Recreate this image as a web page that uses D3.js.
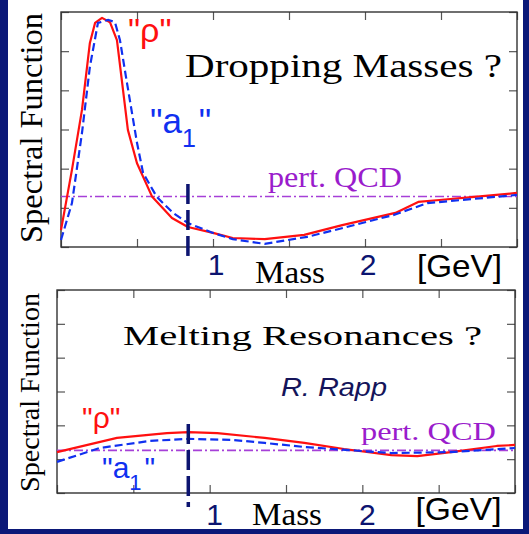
<!DOCTYPE html>
<html>
<head>
<meta charset="utf-8">
<script src="https://cdn.jsdelivr.net/npm/d3@7/dist/d3.min.js"></script>
<style>
  html, body { margin: 0; padding: 0; background: #0b1878; }
  svg { display: block; }
</style>
</head>
<body>
<svg id="chart" width="529" height="534"></svg>
<script>
// ---- data: mass [GeV] and spectral function (arbitrary units, 0..6) ----
// Dropping masses scenario
const dropMass  = [0, 0.072, 0.138, 0.19, 0.224, 0.27, 0.322, 0.368, 0.44, 0.50, 0.60, 0.73, 0.835, 1.0, 1.13, 1.34, 1.60, 1.85, 2.20, 2.35, 2.49, 2.72, 3.0];
const dropRho   = [0.43, 1.97, 3.50, 5.21, 5.72, 5.85, 5.74, 5.28, 2.99, 2.14, 1.28, 0.74, 0.51, 0.36, 0.23, 0.20, 0.31, 0.56, 0.87, 1.15, 1.20, 1.28, 1.38];
const dropMassA1 = [0, 0.072, 0.138, 0.19, 0.243, 0.31, 0.355, 0.388, 0.434, 0.50, 0.54, 0.63, 0.737, 0.835, 1.0, 1.13, 1.34, 1.62, 1.86, 2.19, 2.41, 3.0];
const dropA1    = [0.18, 1.12, 2.91, 4.60, 5.72, 5.80, 5.74, 5.28, 4.19, 2.66, 1.89, 1.28, 0.87, 0.61, 0.36, 0.20, 0.08, 0.26, 0.49, 0.82, 1.12, 1.33];
const dropQCD   = 1.29;

// Melting resonances scenario
const meltMass  = [0, 0.393, 0.72, 0.86, 1.05, 1.36, 1.62, 1.88, 2.19, 2.36, 2.58, 2.88, 3.0];
const meltRho   = [1.21, 1.63, 1.77, 1.80, 1.77, 1.63, 1.48, 1.30, 1.12, 1.09, 1.21, 1.39, 1.42];
const meltMassA1 = [0, 0.28, 0.61, 0.86, 1.15, 1.36, 1.62, 2.19, 2.58, 3.0];
const meltA1    = [0.92, 1.33, 1.54, 1.60, 1.57, 1.48, 1.36, 1.18, 1.21, 1.33];
const meltQCD   = 1.26;

// vacuum rho mass marker: [mass, upper end of the marker]
const rhoMarkMass = [0.835, 0.86];
const rhoMarkTop  = [1.61, 2.04];

// axis ticks and labels
const xTicks = [0, 0.5, 1, 1.5, 2, 2.5, 3];
const yTicks = [0, 1, 2, 3, 4, 5, 6];
const xTickLabels = [1, 2];
const titles = ["Dropping Masses ?", "Melting Resonances ?"];
const yTitle = "Spectral Function";
const xTitle = "Mass";
const xUnit = "[GeV]";
const qcdLabel = "pert. QCD";
const credit = "R. Rapp";

// ---- layout ----
const SERIF = "'Liberation Serif', 'Times New Roman', serif";
const SANS = "'Liberation Sans', Arial, sans-serif";
const RED = "#ff1010", BLUE = "#1030f0", PURPLE = "#9a1ccc", NAVY = "#0c1470";

const panels = [
  {
    box: {x0: 61, x1: 517, y0: 12, y1: 247},
    mass: dropMass, rho: dropRho, massA1: dropMassA1, a1: dropA1, qcd: dropQCD,
    mark: {m: rhoMarkMass[0], top: rhoMarkTop[0], below: 11},
    title: {text: titles[0], x: 185, y: 77, size: 33, len: 317},
    yTitle: {x: 42, y: 128, size: 32, len: 230},
    qcd: dropQCD,
    qcdText: {x: 268, y: 187, size: 30, len: 134},
    rhoText: {x: 128, y: 42, size: 34},
    a1Text: {x: 150, y: 133, size: 35, sub: 25, subDy: 14},
    tickLab: {y: 275, size: 30, dx: 3},
    massLab: {y: 283, size: 32, len: 70, cx: 290},
    unitLab: {y: 277, size: 32, len: 85, cx: 459.5}
  },
  {
    box: {x0: 57, x1: 515, y0: 290, y1: 493},
    mass: meltMass, rho: meltRho, massA1: meltMassA1, a1: meltA1, qcd: meltQCD,
    mark: {m: rhoMarkMass[1], top: rhoMarkTop[1], below: 14},
    title: {text: titles[1], x: 123, y: 345, size: 28, len: 359},
    yTitle: {x: 39, y: 392.5, size: 28, len: 199},
    qcdText: {x: 361, y: 440, size: 26, len: 135},
    rhoText: {x: 82, y: 428, size: 30},
    a1Text: {x: 102, y: 478, size: 30, sub: 22, subDy: 12},
    credit: {x: 281, y: 396, size: 25, len: 106},
    tickLab: {y: 525, size: 30, dx: 5},
    massLab: {y: 525, size: 32, len: 70, cx: 287},
    unitLab: {y: 520, size: 32, len: 86, cx: 458.5}
  }
];

const svg = d3.select("#chart");

// white slide area
svg.append("rect").attr("x", 8).attr("y", 0).attr("width", 515).attr("height", 529).attr("fill", "#ffffff");

panels.forEach(p => {
  const b = p.box;
  const x = d3.scaleLinear().domain([0, 3]).range([b.x0, b.x1]);
  const y = d3.scaleLinear().domain([0, 6]).range([b.y1, b.y0]);
  const g = svg.append("g");

  // inward ticks on all four sides
  const tickStyle = sel => {
    sel.select(".domain").remove();
    sel.selectAll(".tick line").attr("stroke", "#555").attr("stroke-width", 1.2);
    sel.selectAll(".tick text").remove();
  };
  g.append("g").attr("transform", `translate(0,${b.y1})`)
    .call(d3.axisBottom(x).tickValues(xTicks).tickSize(-8)).call(tickStyle);
  g.append("g").attr("transform", `translate(0,${b.y0})`)
    .call(d3.axisTop(x).tickValues(xTicks).tickSize(-8)).call(tickStyle);
  g.append("g").attr("transform", `translate(${b.x0},0)`)
    .call(d3.axisLeft(y).tickValues(yTicks).tickSize(-8)).call(tickStyle);
  g.append("g").attr("transform", `translate(${b.x1},0)`)
    .call(d3.axisRight(y).tickValues(yTicks).tickSize(-8)).call(tickStyle);

  // frame
  g.append("rect").attr("x", b.x0).attr("y", b.y0)
    .attr("width", b.x1 - b.x0).attr("height", b.y1 - b.y0)
    .attr("fill", "none").attr("stroke", "#333").attr("stroke-width", 1.4);

  // perturbative QCD continuum
  g.append("line").attr("x1", x(0)).attr("x2", x(3))
    .attr("y1", y(p.qcd)).attr("y2", y(p.qcd))
    .attr("stroke", "#a640d8").attr("stroke-width", 1.6)
    .attr("stroke-dasharray", "9,3,2,3");

  const line = d3.line().x(d => x(d[0])).y(d => y(d[1])).curve(d3.curveLinear);

  // rho (solid red) and a1 (dashed blue)
  g.append("path").datum(d3.zip(p.mass, p.rho)).attr("d", line)
    .attr("fill", "none").attr("stroke", RED).attr("stroke-width", 2.2)
    .attr("stroke-linejoin", "round");
  g.append("path").datum(d3.zip(p.massA1, p.a1)).attr("d", line)
    .attr("fill", "none").attr("stroke", BLUE).attr("stroke-width", 2.2)
    .attr("stroke-dasharray", "8,4");

  // vacuum rho mass marker
  g.append("line").attr("x1", x(p.mark.m)).attr("x2", x(p.mark.m))
    .attr("y1", y(p.mark.top)).attr("y2", b.y1 + p.mark.below)
    .attr("stroke", NAVY).attr("stroke-width", 3.5)
    .attr("stroke-dasharray", "20,6");

  // titles and labels
  g.append("text").attr("x", p.title.x).attr("y", p.title.y)
    .attr("font-family", SERIF).attr("font-size", p.title.size)
    .attr("textLength", p.title.len).attr("lengthAdjust", "spacingAndGlyphs")
    .attr("fill", "#000").text(p.title.text);

  g.append("text")
    .attr("transform", `translate(${p.yTitle.x},${p.yTitle.y}) rotate(-90)`)
    .attr("text-anchor", "middle")
    .attr("font-family", SERIF).attr("font-size", p.yTitle.size)
    .attr("textLength", p.yTitle.len).attr("lengthAdjust", "spacingAndGlyphs")
    .attr("fill", "#000").text(yTitle);

  g.append("text").attr("x", p.qcdText.x).attr("y", p.qcdText.y)
    .attr("font-family", SERIF).attr("font-size", p.qcdText.size)
    .attr("textLength", p.qcdText.len).attr("lengthAdjust", "spacingAndGlyphs")
    .attr("fill", PURPLE).text(qcdLabel);

  g.append("text").attr("x", p.rhoText.x).attr("y", p.rhoText.y)
    .attr("font-family", SANS).attr("font-size", p.rhoText.size)
    .attr("fill", RED).text("\"\u03C1\"");

  const a1 = g.append("text").attr("x", p.a1Text.x).attr("y", p.a1Text.y)
    .attr("font-family", SANS).attr("font-size", p.a1Text.size).attr("fill", BLUE);
  a1.append("tspan").text("\"a");
  a1.append("tspan").attr("font-size", p.a1Text.sub).attr("dy", p.a1Text.subDy).text("1");
  a1.append("tspan").attr("dy", -p.a1Text.subDy).attr("dx", 3).text("\"");

  if (p.credit) {
    g.append("text").attr("x", p.credit.x).attr("y", p.credit.y)
      .attr("font-family", SANS).attr("font-style", "italic")
      .attr("font-size", p.credit.size)
      .attr("textLength", p.credit.len).attr("lengthAdjust", "spacingAndGlyphs")
      .attr("fill", "#14145a").text(credit);
  }

  // mass axis labels below the frame
  g.selectAll(null).data(xTickLabels).join("text")
    .attr("x", d => x(d) + p.tickLab.dx).attr("y", p.tickLab.y)
    .attr("text-anchor", "middle")
    .attr("font-family", SANS).attr("font-size", p.tickLab.size)
    .attr("fill", NAVY).text(d => d);

  g.append("text").attr("x", p.massLab.cx).attr("y", p.massLab.y)
    .attr("text-anchor", "middle")
    .attr("font-family", SERIF).attr("font-size", p.massLab.size)
    .attr("textLength", p.massLab.len).attr("lengthAdjust", "spacingAndGlyphs")
    .attr("fill", "#000").text(xTitle);

  g.append("text").attr("x", p.unitLab.cx).attr("y", p.unitLab.y)
    .attr("text-anchor", "middle")
    .attr("font-family", SANS).attr("font-size", p.unitLab.size)
    .attr("textLength", p.unitLab.len).attr("lengthAdjust", "spacingAndGlyphs")
    .attr("fill", "#000").text(xUnit);
});
</script>
</body>
</html>
